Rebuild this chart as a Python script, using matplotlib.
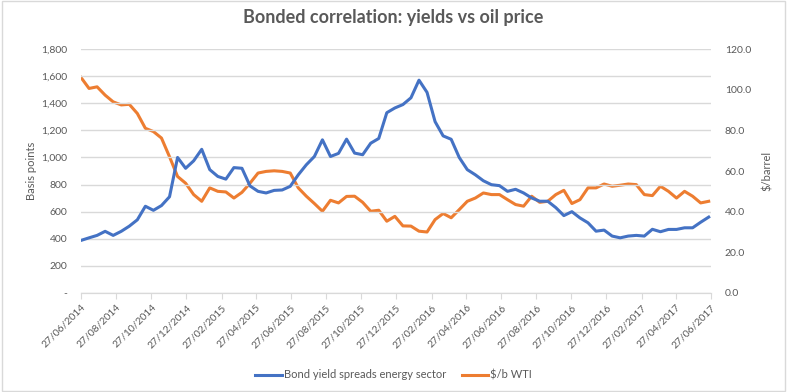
import datetime as dt

import matplotlib
matplotlib.use("Agg")
import matplotlib.pyplot as plt
import matplotlib.dates as mdates
from matplotlib.patches import Rectangle
from matplotlib.ticker import FuncFormatter

# biweekly observations starting 27/06/2014
start = dt.date(2014, 6, 27)
dates = [start + dt.timedelta(days=14 * i) for i in range(79)]

bond_spreads = [388, 407, 425, 455, 425, 455, 493, 540, 640, 610,
                645, 710, 1000, 920, 975, 1060, 910, 860, 840, 925,
                920, 790, 750, 738, 757, 760, 787, 872, 946, 1007,
                1130, 1007, 1030, 1135, 1032, 1020, 1105, 1140, 1330, 1365,
                1390, 1440, 1570, 1480, 1264, 1159, 1134, 1000, 910, 872,
                828, 799, 792, 750, 765, 738, 701, 677, 677, 630,
                571, 600, 554, 518, 456, 464, 420, 407, 420, 425,
                420, 470, 452, 469, 469, 481, 481, 522, 560]

wti = [106.0, 100.6, 101.4, 97.3, 94.0, 92.5, 92.8, 88.3, 81.0, 79.4,
       76.2, 67.0, 57.3, 54.0, 48.4, 45.1, 51.7, 50.0, 49.7, 46.7,
       49.5, 54.0, 59.0, 59.8, 60.1, 59.8, 59.0, 51.7, 47.6, 44.0,
       40.2, 45.6, 44.3, 47.5, 47.6, 44.6, 40.2, 40.7, 35.3, 37.7,
       33.0, 32.9, 30.4, 30.0, 36.1, 39.1, 37.0, 41.0, 45.1, 46.7,
       49.2, 48.4, 48.4, 45.9, 43.5, 42.7, 47.6, 44.6, 45.1, 48.4,
       50.5, 44.0, 45.9, 51.7, 51.7, 53.6, 52.5, 53.0, 53.6, 53.3,
       48.4, 47.9, 52.5, 50.0, 46.7, 50.0, 47.6, 44.3, 45.1]

left_ticks = [0, 200, 400, 600, 800, 1000, 1200, 1400, 1600, 1800]
right_ticks = [0, 20, 40, 60, 80, 100, 120]
x_ticks = [dt.date(2014 + (5 + 2 * k) // 12, (5 + 2 * k) % 12 + 1, 27) for k in range(19)]

plt.rcParams['font.family'] = ['Lato', 'DejaVu Sans']
grey = '#595959'

fig = plt.figure(figsize=(7.87, 3.92), dpi=100)
fig.patches.append(Rectangle((0.002, 0.003), 0.996, 0.994, transform=fig.transFigure,
                             fill=False, edgecolor='#d9d9d9', linewidth=1))
ax = fig.add_axes([81 / 787, 1 - 293 / 392, 630 / 787, 244 / 392])
ax2 = ax.twinx()

l1, = ax.plot(dates, bond_spreads, color='#4472C4', linewidth=2.2,
              label='Bond yield spreads energy sector', zorder=3)
l2, = ax2.plot(dates, wti, color='#ED7D31', linewidth=2.2, label='$/b WTI')
ax.set_zorder(ax2.get_zorder() + 1)
ax.patch.set_visible(False)

ax.set_ylim(0, 1800)
ax2.set_ylim(0, 120)
ax.set_xlim(dt.date(2014, 6, 27), dt.date(2017, 6, 27))
ax.set_yticks(left_ticks)
ax2.set_yticks(right_ticks)
ax.yaxis.set_major_formatter(FuncFormatter(lambda v, p: '-' if v == 0 else f'{int(v):,}'))
ax2.yaxis.set_major_formatter(FuncFormatter(lambda v, p: f'{v:.1f}'))
ax.set_xticks(x_ticks)
ax.xaxis.set_major_formatter(mdates.DateFormatter('%d/%m/%Y'))
plt.setp(ax.get_xticklabels(), rotation=45, ha='right', rotation_mode='anchor')

ax.grid(axis='y', color='#d9d9d9', linewidth=1)
for a in (ax, ax2):
    for s in ('top', 'left', 'right'):
        a.spines[s].set_visible(False)
    a.spines['bottom'].set_color('#d9d9d9')
    a.tick_params(axis='y', length=0, labelsize=7.5, labelcolor=grey)
ax.tick_params(axis='y', pad=10)
ax2.tick_params(axis='y', pad=10)
ax.tick_params(axis='x', length=4, color='#d9d9d9', labelsize=7.5, labelcolor=grey, pad=3)

ax.set_ylabel('Basis points', color=grey, fontsize=8, labelpad=3)
ax2.set_ylabel('$/barrel', color=grey, fontsize=8, rotation=90, labelpad=8)

fig.text(0.5, 1 - 18 / 392, 'Bonded correlation: yields vs oil price', ha='center', va='center',
         fontsize=13, fontweight='bold', color=grey)

fig.legend(handles=[l1, l2], loc='center', bbox_to_anchor=(0.5, 1 - 375 / 392), ncol=2,
           frameon=False, fontsize=8, labelcolor=grey, handlelength=2.4, columnspacing=1.4,
           handletextpad=0.2)

fig.savefig('out.png', dpi=100)
